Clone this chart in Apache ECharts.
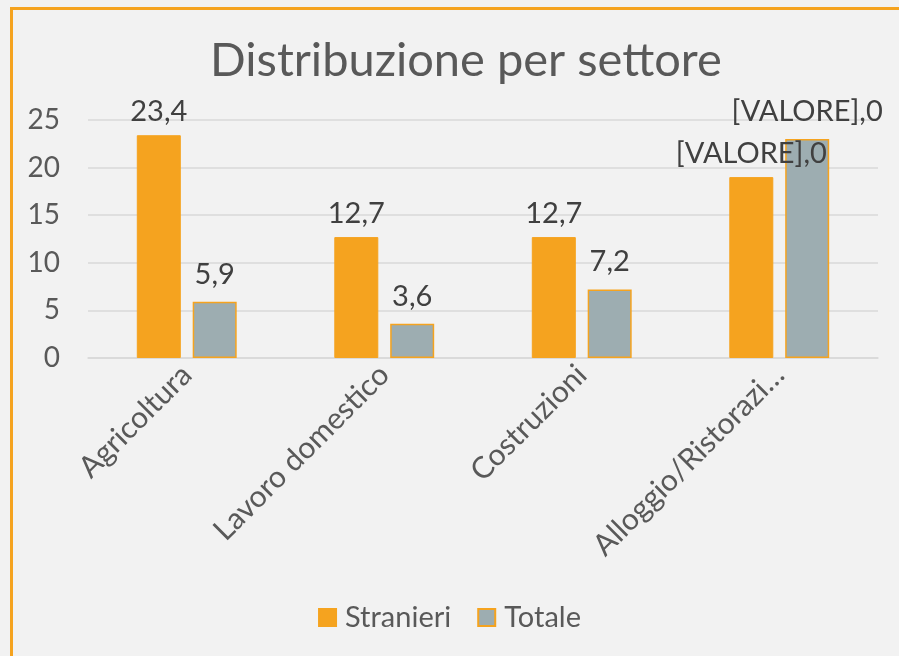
<!DOCTYPE html>
<html>
<head>
<meta charset="utf-8">
<script src="https://cdn.jsdelivr.net/npm/echarts@6/dist/echarts.min.js"></script>
<style>
  html, body { margin: 0; padding: 0; background: #f2f2f2; }
  #main { width: 899px; height: 656px; }
</style>
</head>
<body>
<div id="main"></div>
<script>
// dati
var settori = ['Agricoltura', 'Lavoro domestico', 'Costruzioni', 'Alloggio/Ristorazi…'];
var stranieri = [23.4, 12.7, 12.7, 19];
var totale = [5.9, 3.6, 7.2, 23];
var etichetteStranieri = ['23,4', '12,7', '12,7', '[VALORE],0'];
var etichetteTotale = ['5,9', '3,6', '7,2', '[VALORE],0'];
var tickY = [0, 5, 10, 15, 20, 25];

var arancio = '#f5a31f';
var grigio = '#9dadb1';
var testo = '#595959';
var font = 'Lato, "Open Sans", sans-serif';

var myChart = echarts.init(document.getElementById('main'));

var option = {
    backgroundColor: '#f2f2f2',
    animation: false,
    title: {
        text: 'Distribuzione per settore',
        left: 205,
        top: 32,
        textStyle: { color: testo, fontSize: 47, fontWeight: 'normal', fontFamily: font }
    },
    graphic: [{
        type: 'rect',
        left: 9,
        top: 6,
        shape: { width: 900, height: 670 },
        style: { fill: 'none', stroke: arancio, lineWidth: 3 },
        silent: true
    }],
    legend: {
        bottom: 19,
        left: 'center',
        icon: 'rect',
        itemWidth: 17,
        itemHeight: 17,
        itemGap: 26,
        textStyle: { color: testo, fontSize: 29, fontFamily: font, padding: [0, 0, 0, 4] },
        data: ['Stranieri', 'Totale']
    },
    grid: { left: 88, right: 21, top: 120, bottom: 298 },
    xAxis: {
        type: 'category',
        data: settori,
        axisTick: { show: false },
        axisLine: { lineStyle: { color: '#d9d9d9', width: 1.5 } },
        axisLabel: { rotate: 45, color: testo, fontSize: 30, fontFamily: font, margin: 12, interval: 0 }
    },
    yAxis: {
        type: 'value',
        min: tickY[0],
        max: tickY[tickY.length - 1],
        interval: 5,
        axisLine: { show: false },
        axisTick: { show: false },
        splitLine: { lineStyle: { color: '#d9d9d9', width: 1.5 } },
        axisLabel: { color: testo, fontSize: 28, fontFamily: font, margin: 28 }
    },
    series: [
        {
            name: 'Stranieri',
            type: 'bar',
            data: stranieri,
            barWidth: 44,
            barGap: '27%',
            itemStyle: { color: arancio, borderColor: arancio, borderWidth: 1 },
            label: {
                show: true,
                position: 'top',
                distance: 9,
                color: '#404040',
                fontSize: 29,
                fontFamily: font,
                formatter: function (p) { return etichetteStranieri[p.dataIndex]; }
            }
        },
        {
            name: 'Totale',
            type: 'bar',
            data: totale,
            barWidth: 44,
            itemStyle: { color: grigio, borderColor: arancio, borderWidth: 1.5 },
            label: {
                show: true,
                position: 'top',
                distance: 13,
                color: '#404040',
                fontSize: 29,
                fontFamily: font,
                formatter: function (p) { return etichetteTotale[p.dataIndex]; }
            }
        }
    ]
};

myChart.setOption(option);
</script>
</body>
</html>
